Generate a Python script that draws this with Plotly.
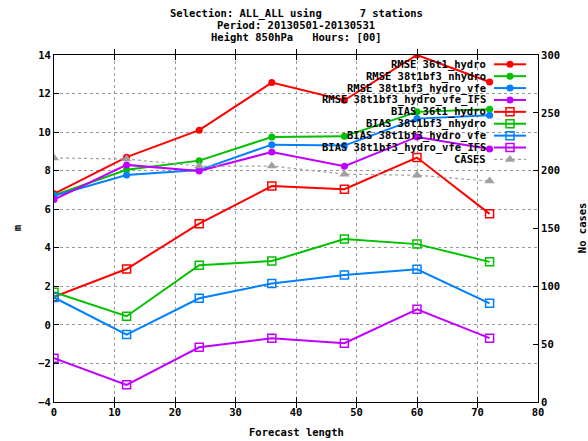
import plotly.graph_objects as go

# ---------------- data ----------------
lead = [0, 12, 24, 36, 48, 60, 72]

rmse_36t1_hydro = [6.80, 8.70, 10.10, 12.57, 11.65, 14.00, 12.60]
rmse_38t1bf3_nhydro = [6.72, 8.05, 8.52, 9.75, 9.78, 11.05, 11.18]
rmse_38t1bf3_hydro_vfe = [6.70, 7.77, 8.03, 9.35, 9.30, 10.70, 10.88]
rmse_38t1bf3_hydro_vfe_ifs = [6.50, 8.30, 7.98, 8.97, 8.23, 9.75, 9.12]

bias_36t1_hydro = [1.46, 2.90, 5.25, 7.20, 7.04, 8.68, 5.76]
bias_38t1bf3_nhydro = [1.69, 0.45, 3.10, 3.31, 4.45, 4.19, 3.27]
bias_38t1bf3_hydro_vfe = [1.42, -0.50, 1.38, 2.15, 2.59, 2.88, 1.12]
bias_38t1bf3_hydro_vfe_ifs = [-1.73, -3.11, -1.16, -0.69, -0.95, 0.81, -0.69]

cases = [211, 210, 204, 204, 197, 196, 191]

names = [
    "RMSE 36t1_hydro",
    "RMSE 38t1bf3_nhydro",
    "RMSE 38t1bf3_hydro_vfe",
    "RMSE 38t1bf3_hydro_vfe_IFS",
    "BIAS 36t1_hydro",
    "BIAS 38t1bf3_nhydro",
    "BIAS 38t1bf3_hydro_vfe",
    "BIAS 38t1bf3_hydro_vfe_IFS",
    "CASES",
]
x_ticks = [0, 10, 20, 30, 40, 50, 60, 70, 80]
y_ticks = [-4, -2, 0, 2, 4, 6, 8, 10, 12, 14]
y2_ticks = [0, 50, 100, 150, 200, 250, 300]

title_lines = [
    "Selection: ALL_ALL using      7 stations",
    "Period: 20130501-20130531",
    "Height 850hPa   Hours: [00]",
]

# ---------------- style ----------------
colors = ["#ff0000", "#00c000", "#0080ff", "#c000ff"]
grey = "#a0a0a0"
gridgrey = "#999999"
DOT = "dot"
FONT = dict(family="DejaVu Sans Mono", size=10.5, color="black", weight="bold")

W, H = 588, 441
L, R, T, B = 54, 538, 54.7, 402

series = [rmse_36t1_hydro, rmse_38t1bf3_nhydro, rmse_38t1bf3_hydro_vfe,
          rmse_38t1bf3_hydro_vfe_ifs, bias_36t1_hydro, bias_38t1bf3_nhydro,
          bias_38t1bf3_hydro_vfe, bias_38t1bf3_hydro_vfe_ifs]

fig = go.Figure()

for i, vals in enumerate(series):
    c = colors[i % 4]
    if i < 4:
        mk = dict(symbol="circle", size=7, color=c)
    else:
        mk = dict(symbol="square-open", size=8, color=c, line=dict(width=1.5, color=c))
    fig.add_trace(go.Scatter(x=lead, y=vals, mode="lines+markers", name=names[i],
                             line=dict(color=c, width=2), marker=mk,
                             showlegend=False, xaxis="x", yaxis="y"))

fig.add_trace(go.Scatter(x=lead, y=cases, mode="lines+markers", name="CASES",
                         line=dict(color=grey, width=1.2, dash=DOT),
                         marker=dict(symbol="triangle-up", size=9, color=grey),
                         showlegend=False, xaxis="x", yaxis="y2"))

# ---------------- custom gnuplot-style legend (pixel frame axis) ----------------
row0, drow = 64.0, 11.9
for i, nm in enumerate(names):
    yy = row0 + i * drow
    if i < 8:
        c = colors[i % 4]
        if i < 4:
            mk = dict(symbol="circle", size=7, color=c)
        else:
            mk = dict(symbol="square-open", size=8, color=c, line=dict(width=1.5, color=c))
        ln = dict(color=c, width=2)
    else:
        mk = dict(symbol="triangle-up", size=9, color=grey)
        ln = dict(color=grey, width=1.2, dash=DOT)
    fig.add_trace(go.Scatter(x=[494, 510, 526], y=[yy, yy, yy], mode="lines",
                             line=ln, showlegend=False, hoverinfo="skip",
                             xaxis="x3", yaxis="y3"))
    fig.add_trace(go.Scatter(x=[510], y=[yy], mode="markers", marker=mk,
                             showlegend=False, hoverinfo="skip",
                             xaxis="x3", yaxis="y3"))
    fig.add_annotation(x=488, y=yy, xref="x3", yref="y3", text=nm, showarrow=False,
                       xanchor="right", yanchor="middle", font=FONT)


def py(p):
    return (B - p) / (B - T)


def px(p):
    return (p - L) / (R - L)


for k, line in enumerate(title_lines):
    fig.add_annotation(x=0.5, y=py(13 + 12 * k), xref="paper", yref="paper",
                       text=line, showarrow=False, xanchor="center",
                       yanchor="middle", font=FONT)

fig.add_annotation(x=0.5, y=py(432), xref="paper", yref="paper",
                   text="Forecast length", showarrow=False, xanchor="center",
                   yanchor="middle", font=FONT)
fig.add_annotation(x=px(17), y=py(228), xref="paper", yref="paper", text="m",
                   showarrow=False, textangle=-90, xanchor="center",
                   yanchor="middle", font=FONT)
fig.add_annotation(x=px(582), y=py(228), xref="paper", yref="paper",
                   text="No cases", showarrow=False, textangle=-90,
                   xanchor="center", yanchor="middle", font=FONT)

axis_common = dict(showline=True, linecolor="black", linewidth=1, ticks="inside",
                   ticklen=5, tickcolor="black", zeroline=False, tickfont=FONT)

fig.update_layout(
    width=W, height=H,
    margin=dict(l=L, r=W - R, t=T, b=H - B, pad=0),
    paper_bgcolor="white", plot_bgcolor="white",
    font=FONT,
    showlegend=False,
    xaxis=dict(range=[0, 80], tickvals=x_ticks, mirror="allticks",
               showgrid=True, gridcolor=gridgrey, griddash=DOT, gridwidth=1,
               **axis_common),
    yaxis=dict(range=[-4, 14], tickvals=y_ticks, mirror=False,
               showgrid=True, gridcolor=gridgrey, griddash=DOT, gridwidth=1,
               **axis_common),
    yaxis2=dict(range=[0, 300], tickvals=y2_ticks, overlaying="y", side="right",
                showgrid=False, **axis_common),
    xaxis3=dict(range=[L, R], overlaying="x", visible=False, fixedrange=True),
    yaxis3=dict(range=[B, T], overlaying="y", visible=False, fixedrange=True),
)

fig.write_html("out.html", config={"displayModeBar": False, "displaylogo": False},
               post_script="document.body.style.margin='0px';document.body.style.overflow='hidden';")
